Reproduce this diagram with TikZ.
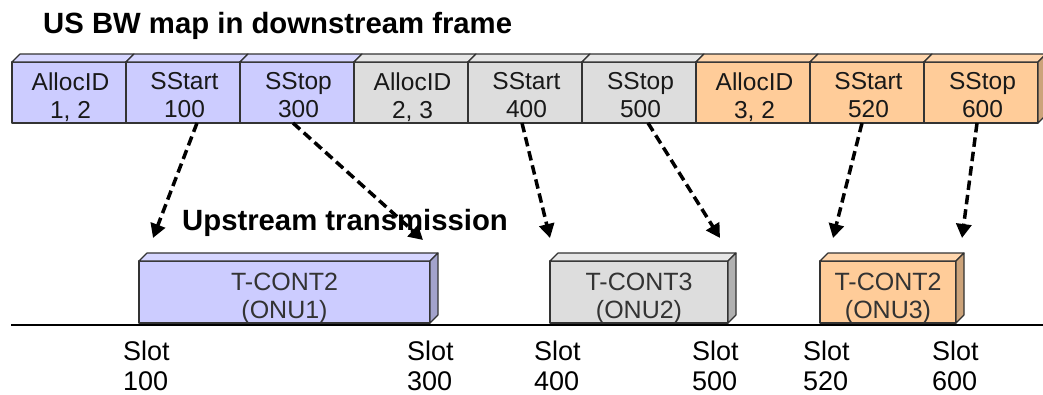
\documentclass[tikz,border=0pt]{standalone}
\usepackage{fontspec}
\setmainfont{Liberation Sans}
\usetikzlibrary{arrows.meta,calc}

\definecolor{lavFront}{HTML}{CCCCFF}
\definecolor{lavTop}{HTML}{D6D6FF}
\definecolor{lavSide}{HTML}{A3A3CC}
\definecolor{greyFront}{HTML}{DDDDDD}
\definecolor{greyTop}{HTML}{E6E6E6}
\definecolor{greySide}{HTML}{B1B1B1}
\definecolor{peachFront}{HTML}{FFCC99}
\definecolor{peachTop}{HTML}{FFD6AD}
\definecolor{peachSide}{HTML}{CCA37A}
\definecolor{edge}{HTML}{333333}

\tikzset{
  face/.style={draw=edge, line width=1.1pt, line join=round},
  cell/.style={face, minimum width=114pt, minimum height=61pt, inner sep=0pt, outer sep=0pt},
  slab/.style={face, minimum height=62pt, inner sep=0pt, outer sep=0pt},
  celltext/.style={font=\fontsize{24.5}{28}\selectfont, align=center, inner sep=0pt, anchor=north, text=black!90},
  slabtext/.style={font=\fontsize{25}{28}\selectfont, align=center, inner sep=0pt, anchor=north, text=black!80},
  slottext/.style={font=\fontsize{27}{29.5}\selectfont, align=left, inner sep=0pt, anchor=north west},
  heading/.style={font=\bfseries\fontsize{29.3}{33}\selectfont, inner sep=0pt, anchor=base west},
  grant/.style={line width=3.5pt, dash pattern=on 9.5pt off 5pt, -{Triangle[length=14pt,width=15pt]}},
}

% top and right faces of a box-shaped node
\newcommand\cubetop[2]{\path[face,fill=#2] (#1.north west) -- ++(8,-8) -- ($(#1.north east)+(8,-8)$) -- (#1.north east) -- cycle;}
\newcommand\cubeside[2]{\path[face,fill=#2] (#1.north east) -- ++(8,-8) -- ($(#1.south east)+(8,-8)$) -- (#1.south east) -- cycle;}

% one field of the bandwidth map: name, x centre, front, top, first line, second line
\newcommand\mapcell[6]{%
  \node[cell,fill=#3] (#1) at (#2,92.5) {};
  \cubetop{#1}{#4}
  \node[celltext] (#1t) at (#2+1.5,72.5) {#5\\#6};
}

\begin{document}
\begin{tikzpicture}[x=1pt,y=-1pt]
\path[use as bounding box, fill=white] (0,0) rectangle (1043,394);

\node[heading] (title) at (43,33) {US BW map in downstream frame};

% bandwidth map fields
\mapcell{m1}{69}{lavFront}{lavTop}{AllocID}{1, 2}
\mapcell{m2}{183}{lavFront}{lavTop}{SStart}{100}
\mapcell{m3}{297}{lavFront}{lavTop}{SStop}{300}
\mapcell{m4}{411}{greyFront}{greyTop}{AllocID}{2, 3}
\mapcell{m5}{525}{greyFront}{greyTop}{SStart}{400}
\mapcell{m6}{639}{greyFront}{greyTop}{SStop}{500}
\mapcell{m7}{753}{peachFront}{peachTop}{AllocID}{3, 2}
\mapcell{m8}{867}{peachFront}{peachTop}{SStart}{520}
\mapcell{m9}{981}{peachFront}{peachTop}{SStop}{600}
\cubeside{m9}{peachSide}

% upstream bursts
\node[slab, minimum width=291pt, fill=lavFront] (onu1) at (284.5,292) {};
\cubetop{onu1}{lavTop}\cubeside{onu1}{lavSide}
\node[slabtext] (onu1t) at (284.5,272.5) {T-CONT2\\(ONU1)};

\node[slab, minimum width=178pt, fill=greyFront] (onu2) at (639,292) {};
\cubetop{onu2}{greyTop}\cubeside{onu2}{greySide}
\node[slabtext] (onu2t) at (639,272.5) {T-CONT3\\(ONU2)};

\node[slab, minimum width=136pt, fill=peachFront] (onu3) at (888,292) {};
\cubetop{onu3}{peachTop}\cubeside{onu3}{peachSide}
\node[slabtext] (onu3t) at (888,272.5) {T-CONT2\\(ONU3)};

% time axis
\coordinate (axisL) at (11,325);
\coordinate (axisR) at (1043,325);
\draw[line width=1.5pt] (axisL) -- (axisR);

% slot labels
\node[slottext] (slot100) at (123,341) {Slot\\100};
\node[slottext] (slot300) at (407,341) {Slot\\300};
\node[slottext] (slot400) at (534,341) {Slot\\400};
\node[slottext] (slot500) at (692,341) {Slot\\500};
\node[slottext] (slot520) at (803,341) {Slot\\520};
\node[slottext] (slot600) at (932,341) {Slot\\600};

\node[heading] (uptitle) at (182,230) {Upstream transmission};

% mapping of start/stop times onto the upstream slots
\coordinate (tip1) at (153,238);
\coordinate (tip2) at (423,240);
\coordinate (tip3) at (550,238);
\coordinate (tip4) at (720,238);
\coordinate (tip5) at (833,238);
\coordinate (tip6) at (962,238);
\draw[grant] ([xshift=14pt]m2.south) -- (tip1);
\draw[grant] ([xshift=-4pt]m3.south) -- (tip2);
\draw[grant] ([xshift=-3pt]m5.south) -- (tip3);
\draw[grant] ([xshift=9pt]m6.south) -- (tip4);
\draw[grant] ([xshift=-5pt]m8.south) -- (tip5);
\draw[grant] ([xshift=-4pt]m9.south) -- (tip6);
\end{tikzpicture}
\end{document}
